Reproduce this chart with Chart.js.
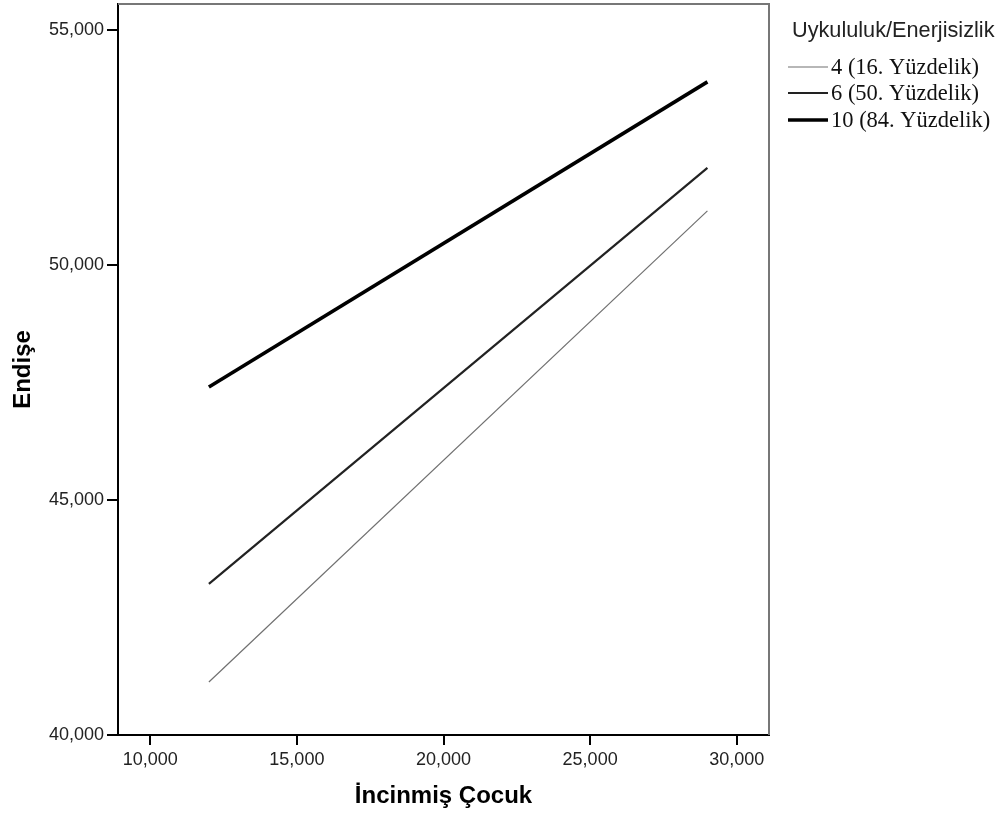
<!DOCTYPE html>
<html>
<head>
<meta charset="utf-8">
<script src="https://cdn.jsdelivr.net/npm/chart.js@4.4.0/dist/chart.umd.min.js"></script>
<style>
  html, body { margin: 0; padding: 0; background: #fff; }
  #wrap { width: 1006px; height: 817px; position: relative; }
</style>
</head>
<body>
<div id="wrap"><canvas id="myChart" width="1006" height="817"></canvas></div>
<script>
const xValues = [12000, 29000];
const lowValues = [41128, 51149];   // 4 (16. Yüzdelik)
const midValues = [43213, 52064];   // 6 (50. Yüzdelik)
const highValues = [47404, 53894];  // 10 (84. Yüzdelik)
const seriesLabels = ["4 (16. Yüzdelik)", "6 (50. Yüzdelik)", "10 (84. Yüzdelik)"];
const xTicks = [10000, 15000, 20000, 25000, 30000];
const yTicks = [40000, 45000, 50000, 55000];
const legendTitle = "Uykululuk/Enerjisizlik";
const xTitle = "İncinmiş Çocuk";
const yTitle = "Endişe";

window.onload = function () {
  const canvas = document.getElementById("myChart");
  const ctx = canvas.getContext("2d");

  const toPoints = (ys) => xValues.map((x, i) => ({ x: x, y: ys[i] }));
  const fmt = (v) => Number(v).toLocaleString("en-US");
  const sans = "'Liberation Sans', Arial, sans-serif";

  // gray top/right frame + legend on the right
  const framePlugin = {
    id: "frame",
    afterDraw(chart) {
      const a = chart.chartArea;
      const c = chart.ctx;
      c.save();
      c.strokeStyle = "#777";
      c.lineWidth = 2;
      c.beginPath();
      c.moveTo(a.left, a.top);
      c.lineTo(a.right, a.top);
      c.lineTo(a.right, a.bottom);
      c.stroke();

      c.fillStyle = "#222";
      c.font = "21.7px " + sans;
      c.textBaseline = "middle";
      c.fillText(legendTitle, 792, 31);

      const ys = [67, 93, 120];
      chart.data.datasets.forEach((ds, i) => {
        c.strokeStyle = ds.borderColor;
        c.lineWidth = ds.borderWidth;
        c.beginPath();
        c.moveTo(788, ys[i]);
        c.lineTo(828, ys[i]);
        c.stroke();
        c.fillStyle = "#111";
        c.font = "22.5px 'Liberation Serif', 'Times New Roman', serif";
        c.fillText(ds.label, 831, ys[i] + 1);
      });
      c.restore();
    },
  };

  new Chart(ctx, {
    type: "scatter",
    data: {
      datasets: [
        {
          label: seriesLabels[0],
          data: toPoints(lowValues),
          showLine: true,
          borderColor: "#707070",
          borderWidth: 1.2,
          pointRadius: 0,
        },
        {
          label: seriesLabels[1],
          data: toPoints(midValues),
          showLine: true,
          borderColor: "#222",
          borderWidth: 2.2,
          pointRadius: 0,
        },
        {
          label: seriesLabels[2],
          data: toPoints(highValues),
          showLine: true,
          borderColor: "#000",
          borderWidth: 3.6,
          pointRadius: 0,
        },
      ],
    },
    options: {
      responsive: false,
      animation: false,
      layout: { padding: { left: 0, top: 4, right: 237, bottom: 0 } },
      plugins: {
        legend: { display: false },
        tooltip: { enabled: false },
      },
      scales: {
        x: {
          type: "linear",
          min: 8900,
          max: 31100,
          afterBuildTicks: (axis) => { axis.ticks = xTicks.map((v) => ({ value: v })); },
          afterFit: (axis) => {
            axis.height = 82;
            axis.paddingLeft = 0;
            axis.paddingRight = 0;
          },
          border: { display: true, color: "#000", width: 2 },
          grid: { drawOnChartArea: false, drawTicks: true, tickLength: 10, color: "#000", lineWidth: 2 },
          ticks: {
            autoSkip: false,
            color: "#222",
            font: { family: sans, size: 18 },
            padding: 4,
            maxRotation: 0,
            callback: fmt,
          },
          title: {
            display: true,
            text: xTitle,
            color: "#000",
            font: { family: sans, size: 24, weight: "bold" },
            padding: { top: 0, bottom: 6 },
          },
        },
        y: {
          type: "linear",
          min: 40000,
          max: 55550,
          afterBuildTicks: (axis) => { axis.ticks = yTicks.map((v) => ({ value: v })); },
          afterFit: (axis) => {
            axis.width = 118;
            axis.paddingTop = 0;
            axis.paddingBottom = 0;
          },
          border: { display: true, color: "#000", width: 2 },
          grid: { drawOnChartArea: false, drawTicks: true, tickLength: 11, color: "#000", lineWidth: 2 },
          ticks: {
            autoSkip: false,
            color: "#222",
            font: { family: sans, size: 18 },
            padding: 3,
            callback: fmt,
          },
          title: {
            display: true,
            text: yTitle,
            color: "#000",
            font: { family: sans, size: 24, weight: "bold" },
            padding: { top: 9, bottom: 0 },
          },
        },
      },
    },
    plugins: [framePlugin],
  });
};
</script>
</body>
</html>
